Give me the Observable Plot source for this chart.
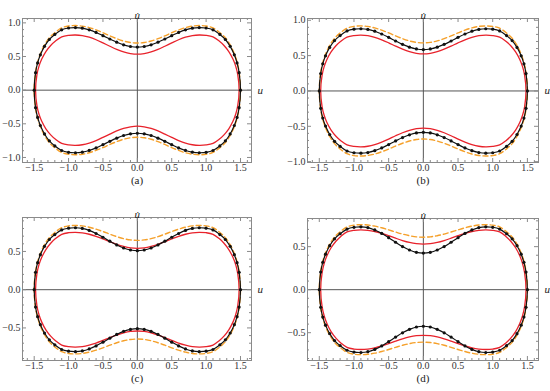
<!DOCTYPE html>
<html>
<head>
<meta charset="utf-8">
<script src="https://cdn.jsdelivr.net/npm/d3@7"></script>
<script src="https://cdn.jsdelivr.net/npm/@observablehq/plot@0.6"></script>
<style>
  html, body { margin: 0; padding: 0; background: #fff; }
  #root { position: relative; width: 550px; height: 391px; overflow: hidden; }
  #root svg { position: absolute; }
  #root svg, #root svg text { font-family: "Liberation Serif", "Times New Roman", Times, "DejaVu Serif", serif !important; }
</style>
</head>
<body>
<div id="root"></div>
<script>
// ---- data (right upper quarter of each symmetric orbit) ----
const uOuter = [0, 0.1, 0.2, 0.3, 0.4, 0.5, 0.6, 0.7, 0.8, 0.9, 1.0, 1.1, 1.2, 1.28, 1.35, 1.41, 1.45, 1.48, 1.5];
const uInner = [0, 0.1, 0.2, 0.3, 0.4, 0.5, 0.6, 0.7, 0.8, 0.9, 1.0, 1.1, 1.19, 1.26, 1.33, 1.39, 1.43, 1.46, 1.48];

// panel (a)
const blackA  = [.640,.649,.674,.713,.760,.810,.858,.896,.921,.930, .924,.897,.828,.753,.651,.525,.405,.260,0];
const orangeA = [.700,.708,.730,.765,.807,.853,.895,.930,.952,.960, .953,.926,.854,.778,.672,.542,.419,.269,0];
const redA    = [.535,.544,.568,.606,.653,.702,.749,.787,.811,.820, .814,.791,.730,.664,.574,.463,.358,.230,0];
// panel (b)
const blackB  = [.585,.594,.620,.659,.707,.758,.806,.845,.871,.880, .874,.849,.783,.713,.616,.497,.384,.246,0];
const orangeB = [.680,.687,.708,.740,.779,.821,.860,.892,.913,.920, .914,.888,.819,.745,.644,.520,.401,.258,0];
const redB    = [.525,.533,.556,.591,.634,.681,.724,.759,.782,.790, .784,.762,.703,.640,.553,.446,.344,.221,0];
// panel (c)
const blackC  = [.510,.519,.545,.585,.634,.686,.735,.775,.801,.810, .804,.782,.721,.656,.567,.458,.353,.227,0];
const orangeC = [.645,.651,.668,.694,.726,.760,.791,.817,.834,.840, .834,.811,.748,.680,.588,.475,.366,.235,0];
const redC    = [.540,.546,.565,.593,.627,.663,.698,.725,.744,.750, .745,.724,.668,.608,.525,.424,.327,.210,0];
// panel (d)
const blackD  = [.425,.434,.461,.501,.551,.604,.654,.694,.721,.730, .725,.704,.650,.591,.511,.412,.318,.204,0];
const orangeD = [.610,.614,.627,.646,.670,.695,.719,.738,.751,.755, .750,.729,.672,.612,.529,.427,.329,.211,0];
const redD    = [.530,.535,.549,.571,.598,.627,.654,.676,.690,.695, .690,.671,.619,.563,.487,.393,.303,.195,0];

const xTicks = [-1.5, -1.0, -0.5, 0.0, 0.5, 1.0, 1.5];
const yTicksAB = [-1.0, -0.5, 0.0, 0.5, 1.0];
const yTicksCD = [-0.5, 0.0, 0.5];
const panelLabels = ["(a)", "(b)", "(c)", "(d)"];
const xLabel = "u";
const yLabel = "u\u0307";

// ---- helpers ----
// mirror the quarter into a closed orbit (the orbit is symmetric in u and u̇)
function loop(us, vs) {
  const pts = [];
  const n = us.length;
  for (let i = n - 1; i >= 1; i--) pts.push({u: -us[i], v: vs[i]});
  for (let i = 0; i < n; i++) pts.push({u: us[i], v: vs[i]});
  for (let i = n - 2; i >= 0; i--) pts.push({u: us[i], v: -vs[i]});
  for (let i = 1; i <= n - 2; i++) pts.push({u: -us[i], v: -vs[i]});
  return pts;
}
function minorRange(lo, hi) {
  const out = [];
  for (let k = Math.ceil(lo * 10 - 1e-9); k <= Math.floor(hi * 10 + 1e-9); k++) out.push(k / 10);
  return out;
}

const RED = "#e8222b", ORANGE = "#f5a02a", BLACK = "#111", FRAME = "#8a8a8a";
const FONT = "'Liberation Serif', 'Times New Roman', Times, 'DejaVu Serif', serif";
const fmt = d3.format(".1f");

const panels = [
  {left: 0,   top: 0,   w: 275, h: 195, mL: 22, mR: 24, mT: 18, mB: 33, yDom: [-1.075, 1.065], yT: yTicksAB, black: blackA, orange: orangeA, red: redA, label: panelLabels[0]},
  {left: 275, top: 0,   w: 275, h: 195, mL: 32, mR: 12, mT: 18, mB: 33, yDom: [-1.012, 1.025], yT: yTicksAB, black: blackB, orange: orangeB, red: redB, label: panelLabels[1]},
  {left: 0,   top: 195, w: 275, h: 196, mL: 22, mR: 24, mT: 22, mB: 31, yDom: [-0.926, 0.944], yT: yTicksCD, black: blackC, orange: orangeC, red: redC, label: panelLabels[2]},
  {left: 275, top: 195, w: 275, h: 196, mL: 32, mR: 12, mT: 23, mB: 31, yDom: [-0.823, 0.827], yT: yTicksCD, black: blackD, orange: orangeD, red: redD, label: panelLabels[3]}
];
const xDom = [-1.67, 1.66];

const root = document.getElementById("root");
for (const p of panels) {
  const iw = p.w - p.mL - p.mR;
  const ih = p.h - p.mT - p.mB;
  const xMinor = minorRange(xDom[0], xDom[1]);
  const yMinor = minorRange(p.yDom[0], p.yDom[1]);
  const isMajor = (d) => Math.abs(d * 2 - Math.round(d * 2)) < 1e-6;
  const tickMarks = [];
  for (const d of xMinor) {
    const len = isMajor(d) ? 4 : 2;
    tickMarks.push(Plot.tickX([d], {x: (v) => v, insetTop: ih - len, stroke: FRAME}));
    tickMarks.push(Plot.tickX([d], {x: (v) => v, insetBottom: ih - len, stroke: FRAME}));
  }
  for (const d of yMinor) {
    const len = isMajor(d) ? 4 : 2;
    tickMarks.push(Plot.tickY([d], {y: (v) => v, insetRight: iw - len, stroke: FRAME}));
    tickMarks.push(Plot.tickY([d], {y: (v) => v, insetLeft: iw - len, stroke: FRAME}));
  }
  const blackPts = loop(uOuter, p.black);
  const orangePts = loop(uOuter, p.orange);
  const redPts = loop(uInner, p.red);

  const svg = Plot.plot({
    width: p.w, height: p.h,
    marginLeft: p.mL, marginRight: p.mR, marginTop: p.mT, marginBottom: p.mB,
    style: {fontFamily: FONT, fontSize: "10px", background: "transparent", overflow: "visible"},
    x: {domain: xDom, axis: null},
    y: {domain: p.yDom, axis: null},
    marks: [
      Plot.ruleX([0], {stroke: "#555", strokeWidth: 1}),
      Plot.ruleY([0], {stroke: "#555", strokeWidth: 1}),
      ...tickMarks,
      Plot.frame({stroke: FRAME, strokeWidth: 1}),
      Plot.axisX(xTicks, {anchor: "bottom", tickSize: 0, tickPadding: 1, tickFormat: fmt, label: null, fill: "#333", fontFamily: FONT, fontSize: 10}),
      Plot.axisY(p.yT, {anchor: "left", tickSize: 0, tickPadding: 2, tickFormat: fmt, label: null, fill: "#333", fontFamily: FONT, fontSize: 10}),
      Plot.line(redPts, {x: "u", y: "v", stroke: RED, strokeWidth: 1.3, curve: "catmull-rom-closed"}),
      Plot.line(orangePts, {x: "u", y: "v", stroke: ORANGE, strokeWidth: 1.4, strokeDasharray: "5,3", curve: "catmull-rom-closed"}),
      Plot.line(blackPts, {x: "u", y: "v", stroke: BLACK, strokeWidth: 1.2, curve: "catmull-rom-closed"}),
      Plot.dot(blackPts, {x: "u", y: "v", r: 1.6, fill: BLACK, stroke: "none"}),
      Plot.text([0], {x: (d) => d, text: () => yLabel, frameAnchor: "top", dy: -7, fontStyle: "italic", fontSize: 11, fill: "#222", fontFamily: FONT}),
      Plot.text([0], {y: (d) => d, text: () => xLabel, frameAnchor: "right", dx: 6, textAnchor: "start", fontStyle: "italic", fontSize: 11, fill: "#222", fontFamily: FONT}),
      Plot.text([p.label], {text: (d) => d, frameAnchor: "bottom", dy: 21, fontSize: 11, fill: "#222", fontFamily: FONT})
    ]
  });
  svg.style.left = p.left + "px";
  svg.style.top = p.top + "px";
  root.appendChild(svg);
}
</script>
</body>
</html>
